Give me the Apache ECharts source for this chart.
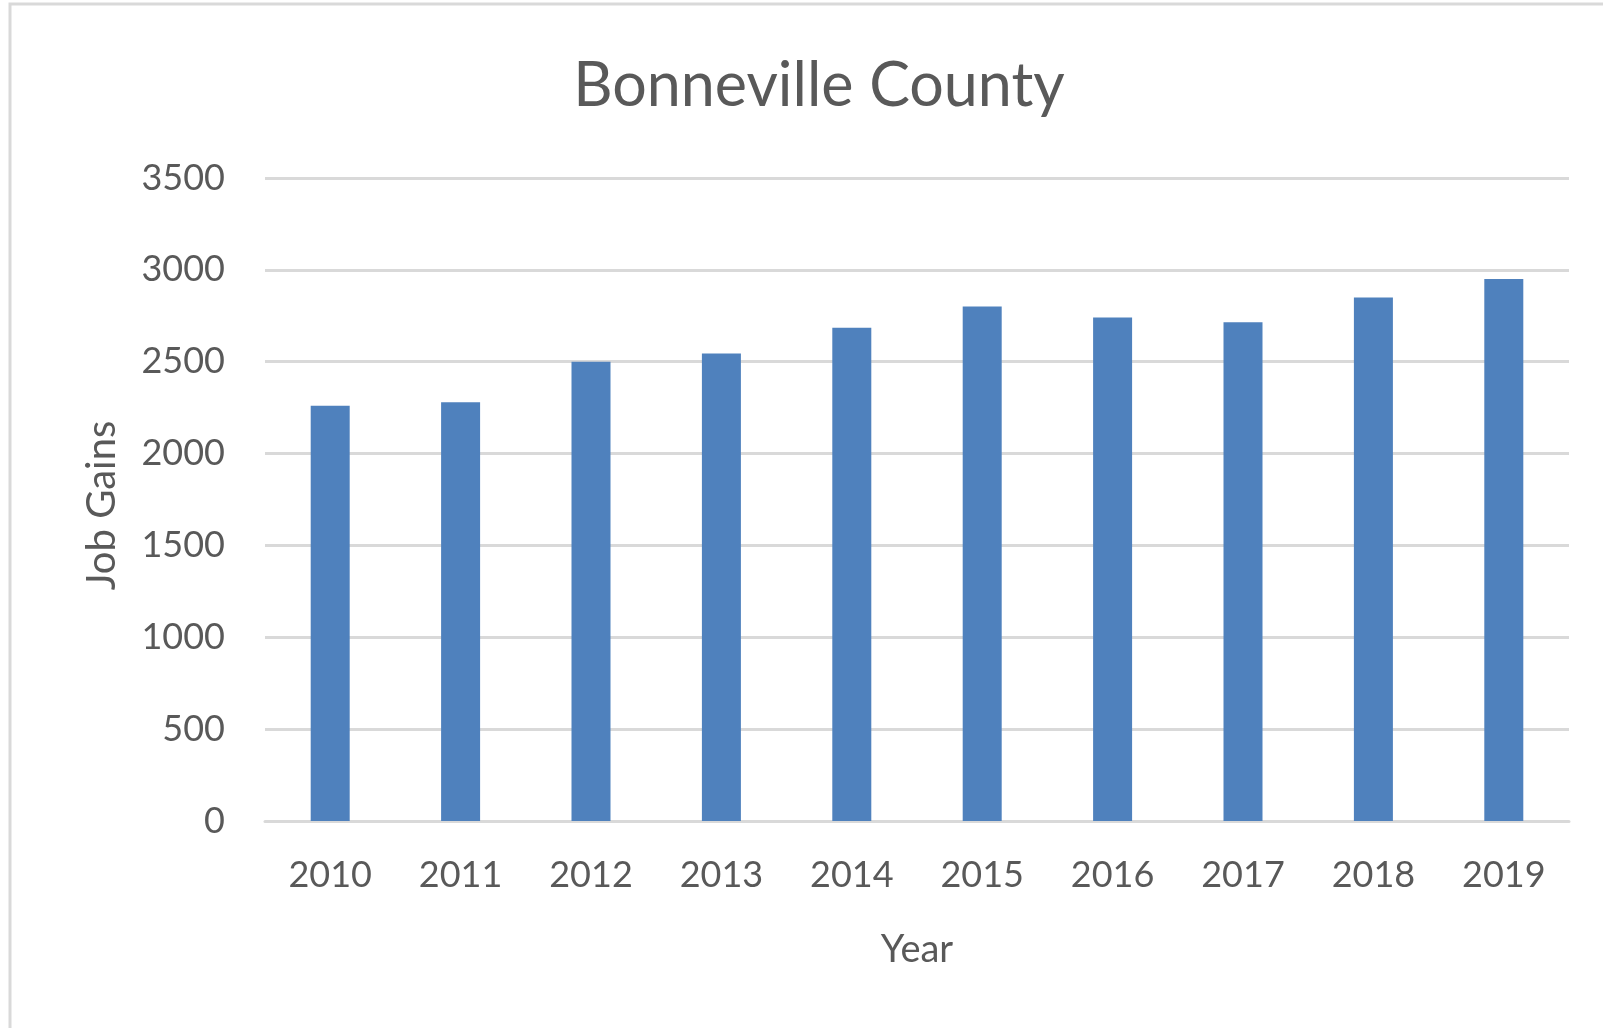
<!DOCTYPE html>
<html>
<head>
<meta charset="utf-8">
<title>Bonneville County</title>
<script src="https://cdn.jsdelivr.net/npm/echarts@6/dist/echarts.min.js"></script>
<style>
  html, body { margin: 0; padding: 0; background: #ffffff; }
  #chart { width: 1603px; height: 1028px; }
</style>
</head>
<body>
<div id="chart"></div>
<script>
// Job gains per year, Bonneville County
const years = ['2010', '2011', '2012', '2013', '2014', '2015', '2016', '2017', '2018', '2019'];
const jobGains = [2260, 2280, 2500, 2545, 2685, 2800, 2740, 2715, 2850, 2950];

const textColor = '#595959';
const gridColor = '#d9d9d9';
const font = 'Lato, "Open Sans", sans-serif';

const chart = echarts.init(document.getElementById('chart'));
chart.setOption({
  backgroundColor: '#ffffff',
  animation: false,
  graphic: [{
    type: 'rect',
    shape: { x: 10, y: 4, width: 1700, height: 1100 },
    style: { fill: 'none', stroke: gridColor, lineWidth: 3 },
    silent: true
  }],
  title: {
    text: 'Bonneville County',
    left: 814,
    textAlign: 'center',
    top: 51,
    textStyle: { fontFamily: font, fontSize: 61, lineHeight: 61, fontWeight: 'normal', color: textColor }
  },
  grid: { left: 265, right: 34, top: 178, bottom: 207 },
  xAxis: {
    type: 'category',
    data: years,
    name: 'Year',
    nameLocation: 'middle',
    nameGap: 110,
    nameTextStyle: { fontFamily: font, fontSize: 38, color: textColor },
    axisLine: { lineStyle: { color: gridColor, width: 3 } },
    axisTick: { show: false },
    axisLabel: { fontFamily: font, fontSize: 36, color: textColor, margin: 36 }
  },
  yAxis: {
    type: 'value',
    min: 0,
    max: 3500,
    interval: 500,
    name: 'Job Gains',
    nameLocation: 'middle',
    nameGap: 143,
    nameTextStyle: { fontFamily: font, fontSize: 40, color: textColor, padding: [0, 12, 0, 0] },
    axisLine: { show: false },
    axisTick: { show: false },
    axisLabel: {
      fontFamily: font, fontSize: 36, color: textColor, margin: 40,
      formatter: (v) => String(v)
    },
    splitLine: { lineStyle: { color: gridColor, width: 3 } }
  },
  series: [{
    type: 'bar',
    data: jobGains,
    barWidth: 39,
    itemStyle: { color: '#4f81bd' }
  }]
});
</script>
</body>
</html>
